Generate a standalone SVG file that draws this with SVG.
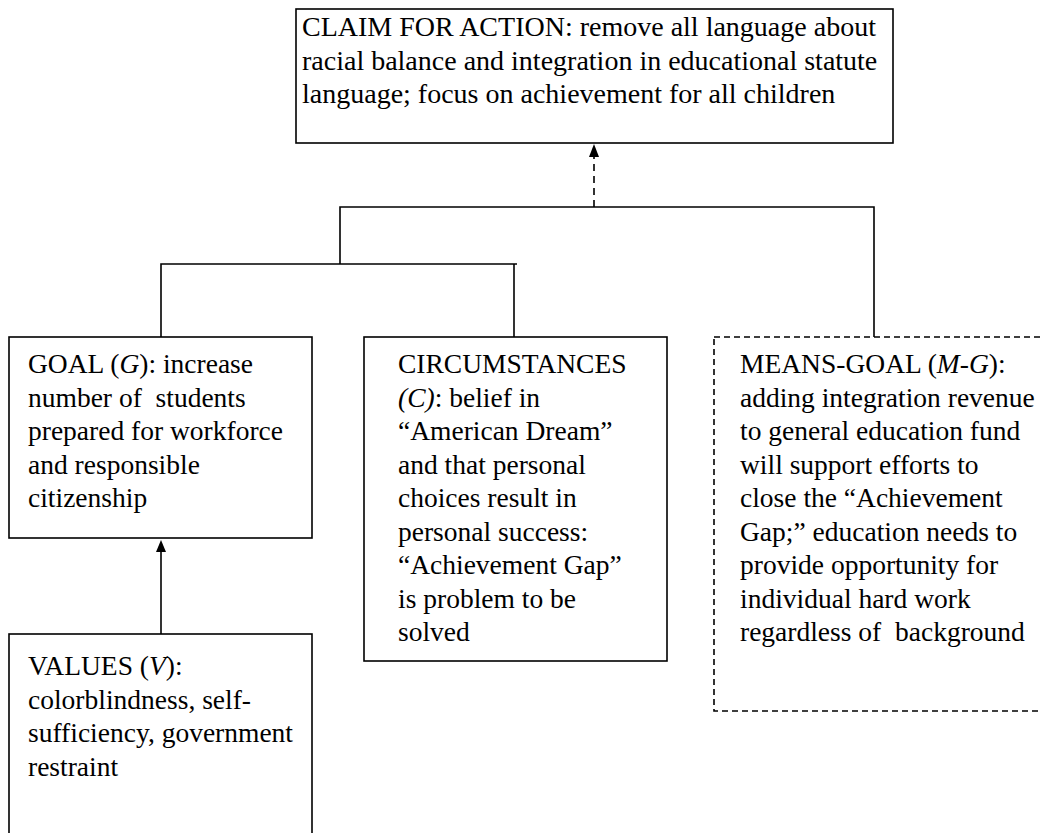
<svg xmlns="http://www.w3.org/2000/svg" width="1040" height="833" viewBox="0 0 1040 833">
<defs>
<style>
.box{fill:#fff;stroke:#000;stroke-width:1.6}
.dbox{fill:#fff;stroke:#000;stroke-width:1.6;stroke-dasharray:6 4}
.ln{fill:none;stroke:#000;stroke-width:1.6}
.dln{fill:none;stroke:#000;stroke-width:1.6;stroke-dasharray:7 5}
text{font-family:'Liberation Serif','DejaVu Serif','Times New Roman',serif;font-size:27.5px;fill:#000}
.big{font-size:28px}
.i{font-style:italic}
</style>
</defs>
<rect width="1040" height="833" fill="#fff"/>

<g id="connectors">
<line class="dln" x1="594" y1="207" x2="594" y2="157"/>
<path d="M589,157 L594,144 L599,157 Z" fill="#000"/>
<path class="ln" d="M340,264 V207 H874 V337"/>
<path class="ln" d="M161,337 V264 H517"/>
<line class="ln" x1="514" y1="264" x2="514" y2="337"/>
<line class="ln" x1="161" y1="634" x2="161" y2="552"/>
<path d="M156,552 L161,540 L166,552 Z" fill="#000"/>
</g>

<g font-family="Liberation Serif, DejaVu Serif, serif" font-size="27.5">
<g id="claim">
<rect class="box" x="296" y="9" width="597" height="134"/>
<text class="big" x="302" y="36">CLAIM FOR ACTION: remove all language about</text>
<text class="big" x="302" y="69.5">racial balance and integration in educational statute</text>
<text class="big" x="302" y="103">language; focus on achievement for all children</text>
</g>

<g id="goal">
<rect class="box" x="9" y="337" width="303" height="201"/>
<text x="28" y="373">GOAL (<tspan class="i">G</tspan>): increase</text>
<text x="28" y="406.5" xml:space="preserve">number of  students</text>
<text x="28" y="440">prepared for workforce</text>
<text x="28" y="473.5">and responsible</text>
<text x="28" y="507">citizenship</text>
</g>

<g id="circumstances">
<rect class="box" x="364" y="337" width="303" height="324"/>
<text x="398" y="373">CIRCUMSTANCES</text>
<text x="398" y="406.5"><tspan class="i">(C)</tspan>: belief in</text>
<text x="398" y="440">“American Dream”</text>
<text x="398" y="473.5">and that personal</text>
<text x="398" y="507">choices result in</text>
<text x="398" y="540.5">personal success:</text>
<text x="398" y="574">“Achievement Gap”</text>
<text x="398" y="607.5">is problem to be</text>
<text x="398" y="641">solved</text>
</g>

<g id="means-goal">
<rect class="dbox" x="714" y="337" width="340" height="374"/>
<text x="740" y="373">MEANS-GOAL (<tspan class="i">M-G</tspan>):</text>
<text x="740" y="406.5">adding integration revenue</text>
<text x="740" y="440">to general education fund</text>
<text x="740" y="473.5">will support efforts to</text>
<text x="740" y="507">close the “Achievement</text>
<text x="740" y="540.5">Gap;” education needs to</text>
<text x="740" y="574">provide opportunity for</text>
<text x="740" y="607.5">individual hard work</text>
<text x="740" y="641" xml:space="preserve">regardless of  background</text>
</g>

<g id="values">
<rect class="box" x="9" y="634" width="303" height="210"/>
<text x="28" y="675">VALUES (<tspan class="i">V</tspan>):</text>
<text x="28" y="708.5">colorblindness, self-</text>
<text x="28" y="742">sufficiency, government</text>
<text x="28" y="775.5">restraint</text>
</g>
</g>
</svg>
